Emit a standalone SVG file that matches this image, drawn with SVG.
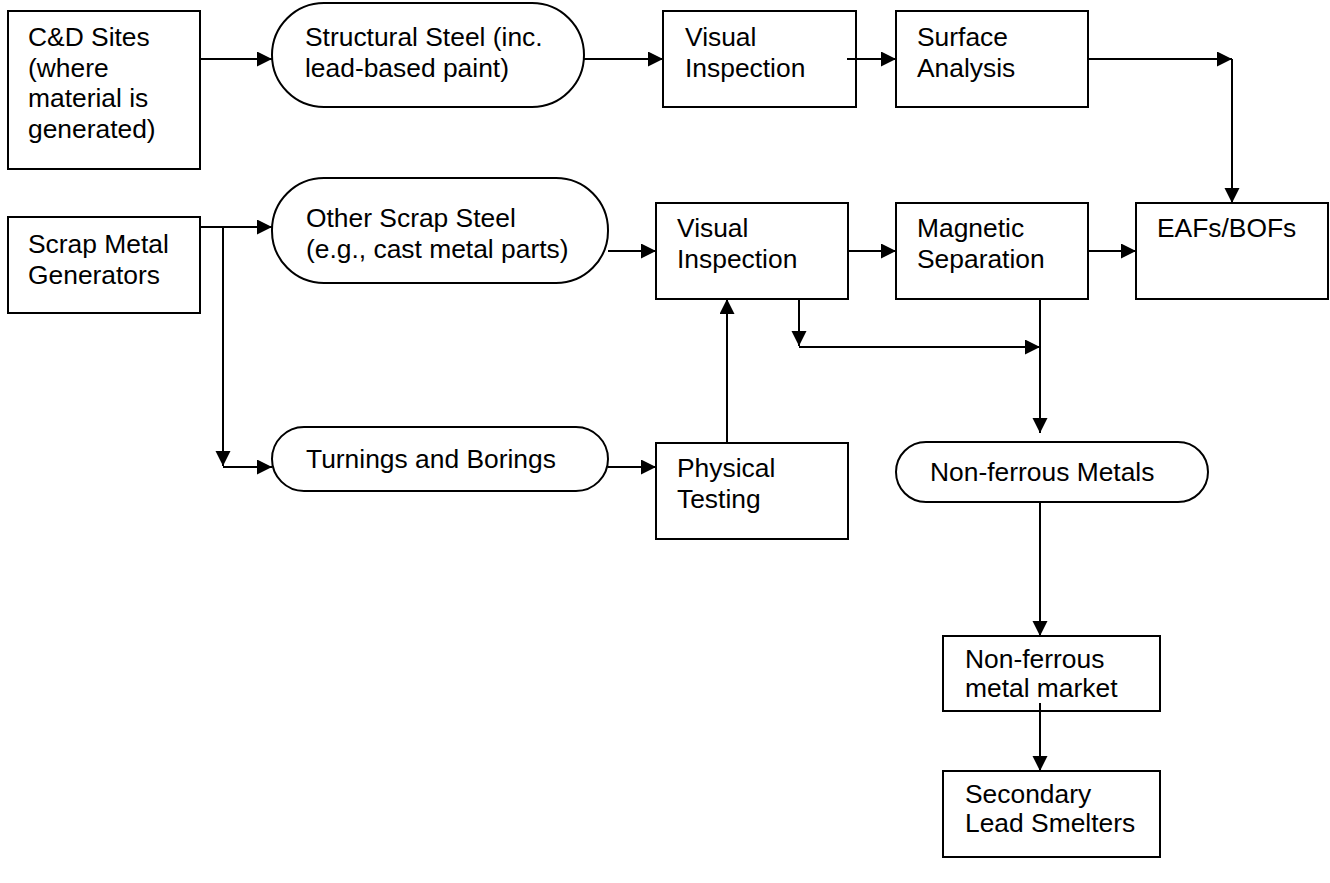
<svg xmlns="http://www.w3.org/2000/svg" width="1330" height="883" viewBox="0 0 1330 883">
<style>
.box{fill:#fff;stroke:#000;stroke-width:2}
.t{font-family:"Liberation Sans",Arial,sans-serif;font-size:26.4px;fill:#000}
.c{fill:none;stroke:#000;stroke-width:2}
</style>
<defs>
<marker id="ah" markerUnits="userSpaceOnUse" markerWidth="16" markerHeight="16" refX="15" refY="7.5" orient="auto">
<path d="M0,0 L15,7.5 L0,15 z" fill="#000"/>
</marker>
</defs>
<rect width="1330" height="883" fill="#fff"/>
<g id="cd-sites"><rect class="box" x="8" y="11" width="192" height="158"/>
<text class="t" x="28" y="46">C&amp;D Sites</text><text class="t" x="28" y="77">(where</text><text class="t" x="28" y="107">material is</text><text class="t" x="28" y="138">generated)</text></g>
<g id="structural-steel"><rect class="box" x="272" y="3" width="312" height="104" rx="52" ry="52"/>
<text class="t" x="305" y="46">Structural Steel (inc.</text><text class="t" x="305" y="77">lead-based paint)</text></g>
<g id="visual-inspection-1"><rect class="box" x="663" y="11" width="193" height="96"/>
<text class="t" x="685" y="46">Visual</text><text class="t" x="685" y="77">Inspection</text></g>
<g id="surface-analysis"><rect class="box" x="896" y="11" width="192" height="96"/>
<text class="t" x="917" y="46">Surface</text><text class="t" x="917" y="77">Analysis</text></g>
<g id="scrap-metal-generators"><rect class="box" x="8" y="217" width="192" height="96"/>
<text class="t" x="28" y="253">Scrap Metal</text><text class="t" x="28" y="284">Generators</text></g>
<g id="other-scrap-steel"><rect class="box" x="272" y="178" width="336" height="105" rx="52" ry="52"/>
<text class="t" x="306" y="227">Other Scrap Steel</text><text class="t" x="306" y="258">(e.g., cast metal parts)</text></g>
<g id="visual-inspection-2"><rect class="box" x="656" y="203" width="192" height="96"/>
<text class="t" x="677" y="237">Visual</text><text class="t" x="677" y="268">Inspection</text></g>
<g id="magnetic-separation"><rect class="box" x="896" y="203" width="192" height="96"/>
<text class="t" x="917" y="237">Magnetic</text><text class="t" x="917" y="268">Separation</text></g>
<g id="eafs-bofs"><rect class="box" x="1136" y="203" width="192" height="96"/>
<text class="t" x="1157" y="237">EAFs/BOFs</text></g>
<g id="turnings-borings"><rect class="box" x="272" y="427" width="336" height="64" rx="32" ry="32"/>
<text class="t" x="306" y="468">Turnings and Borings</text></g>
<g id="physical-testing"><rect class="box" x="656" y="443" width="192" height="96"/>
<text class="t" x="677" y="477">Physical</text><text class="t" x="677" y="508">Testing</text></g>
<g id="non-ferrous-metals"><rect class="box" x="896" y="442" width="312" height="60" rx="30" ry="30"/>
<text class="t" x="930" y="481">Non-ferrous Metals</text></g>
<g id="non-ferrous-market"><rect class="box" x="943" y="636" width="217" height="75"/>
<text class="t" x="965" y="668">Non-ferrous</text><text class="t" x="965" y="697">metal market</text></g>
<g id="secondary-lead-smelters"><rect class="box" x="943" y="771" width="217" height="86"/>
<text class="t" x="965" y="803">Secondary</text><text class="t" x="965" y="832">Lead Smelters</text></g>
<g id="connectors">
<path class="c" d="M200,59 H272" marker-end="url(#ah)"/>
<path class="c" d="M584,59 H663" marker-end="url(#ah)"/>
<path class="c" d="M847,59 H896" marker-end="url(#ah)"/>
<path class="c" d="M1088,59 H1232" marker-end="url(#ah)"/>
<path class="c" d="M1232,59 V203" marker-end="url(#ah)"/>
<path class="c" d="M200,227 H272" marker-end="url(#ah)"/>
<path class="c" d="M223,227 V466" marker-end="url(#ah)"/>
<path class="c" d="M223,467 H272" marker-end="url(#ah)"/>
<path class="c" d="M608,251 H656" marker-end="url(#ah)"/>
<path class="c" d="M848,251 H896" marker-end="url(#ah)"/>
<path class="c" d="M1088,251 H1136" marker-end="url(#ah)"/>
<path class="c" d="M608,467 H656" marker-end="url(#ah)"/>
<path class="c" d="M727,443 V299" marker-end="url(#ah)"/>
<path class="c" d="M799,299 V346" marker-end="url(#ah)"/>
<path class="c" d="M799,347 H1040" marker-end="url(#ah)"/>
<path class="c" d="M1040,299 V433" marker-end="url(#ah)"/>
<path class="c" d="M1040,502 V636" marker-end="url(#ah)"/>
<path class="c" d="M1040,703 V771" marker-end="url(#ah)"/>
</g>
</svg>
